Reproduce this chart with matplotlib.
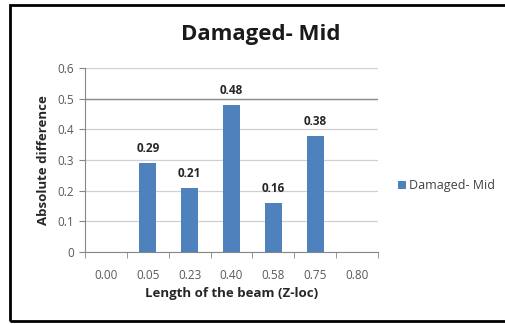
import matplotlib.pyplot as plt
from matplotlib.patches import Rectangle

# data
positions = ["0.00", "0.05", "0.23", "0.40", "0.58", "0.75", "0.80"]
abs_diff = [0, 0.29, 0.21, 0.48, 0.16, 0.38, 0]
value_labels = ["", "0.29", "0.21", "0.48", "0.16", "0.38", ""]
y_ticks = [0, 0.1, 0.2, 0.3, 0.4, 0.5, 0.6]
y_tick_labels = ["0", "0.1", "0.2", "0.3", "0.4", "0.5", "0.6"]

plt.rcParams["font.family"] = ["Open Sans", "DejaVu Sans"]

fig = plt.figure(figsize=(5.06, 3.24), dpi=100)
ax = fig.add_axes([0.168, 0.222, 0.579, 0.568])

x = list(range(len(positions)))
bars = ax.bar(x, abs_diff, width=0.4, color="#4F81BD", label="Damaged- Mid", zorder=3)

for b, txt in zip(bars, value_labels):
    if txt:
        ax.text(b.get_x() + b.get_width() / 2, b.get_height() + 0.025, txt,
                ha="center", va="bottom", fontsize=8.5, fontweight="bold", color="#262626")

ax.set_xlim(-0.5, len(positions) - 0.5)
ax.set_ylim(0, 0.6)
ax.set_yticks(y_ticks)
ax.set_yticklabels(y_tick_labels)
ax.set_xticks(x)
ax.set_xticklabels(positions)
ax.set_xticks([i - 0.5 for i in range(len(positions) + 1)], minor=True)

ax.tick_params(axis="x", which="major", length=0, pad=12, labelsize=8.5, labelcolor="#595959")
ax.tick_params(axis="x", which="minor", length=4, color="#868686", direction="out")
ax.tick_params(axis="y", length=4, color="#868686", labelsize=8.5, labelcolor="#595959", pad=4)

ax.yaxis.grid(True, color="#D0D0D0", linewidth=0.9, zorder=0)
ax.set_axisbelow(True)
for s in ["top", "right"]:
    ax.spines[s].set_visible(False)
ax.spines["left"].set_color("#868686")
ax.spines["bottom"].set_color("#868686")
# the 0.5 gridline is darker in the original
ax.axhline(0.5, color="#8C8C8C", linewidth=1.0, zorder=1)

ax.set_xlabel("Length of the beam (Z-loc)", fontsize=9.5, fontweight="bold", color="#262626", labelpad=4)
ax.set_ylabel("Absolute difference", fontsize=9.5, fontweight="bold", color="#262626", labelpad=5)

fig.text(0.515, 0.895, "Damaged- Mid", ha="center", va="center", fontsize=16,
         fontweight="bold", color="#1A1A1A")

ax.legend(loc="center left", bbox_to_anchor=(1.03, 0.36), frameon=False, fontsize=9,
          handlelength=0.6, handleheight=0.6, handletextpad=0.3, labelcolor="#404040")

# outer frame (right edge is cut off in the original)
fig.patches.append(Rectangle((0.02, 0.008), 1.05, 0.977, transform=fig.transFigure,
                             fill=False, edgecolor="black", linewidth=2))

fig.savefig("out.png", dpi=100)
